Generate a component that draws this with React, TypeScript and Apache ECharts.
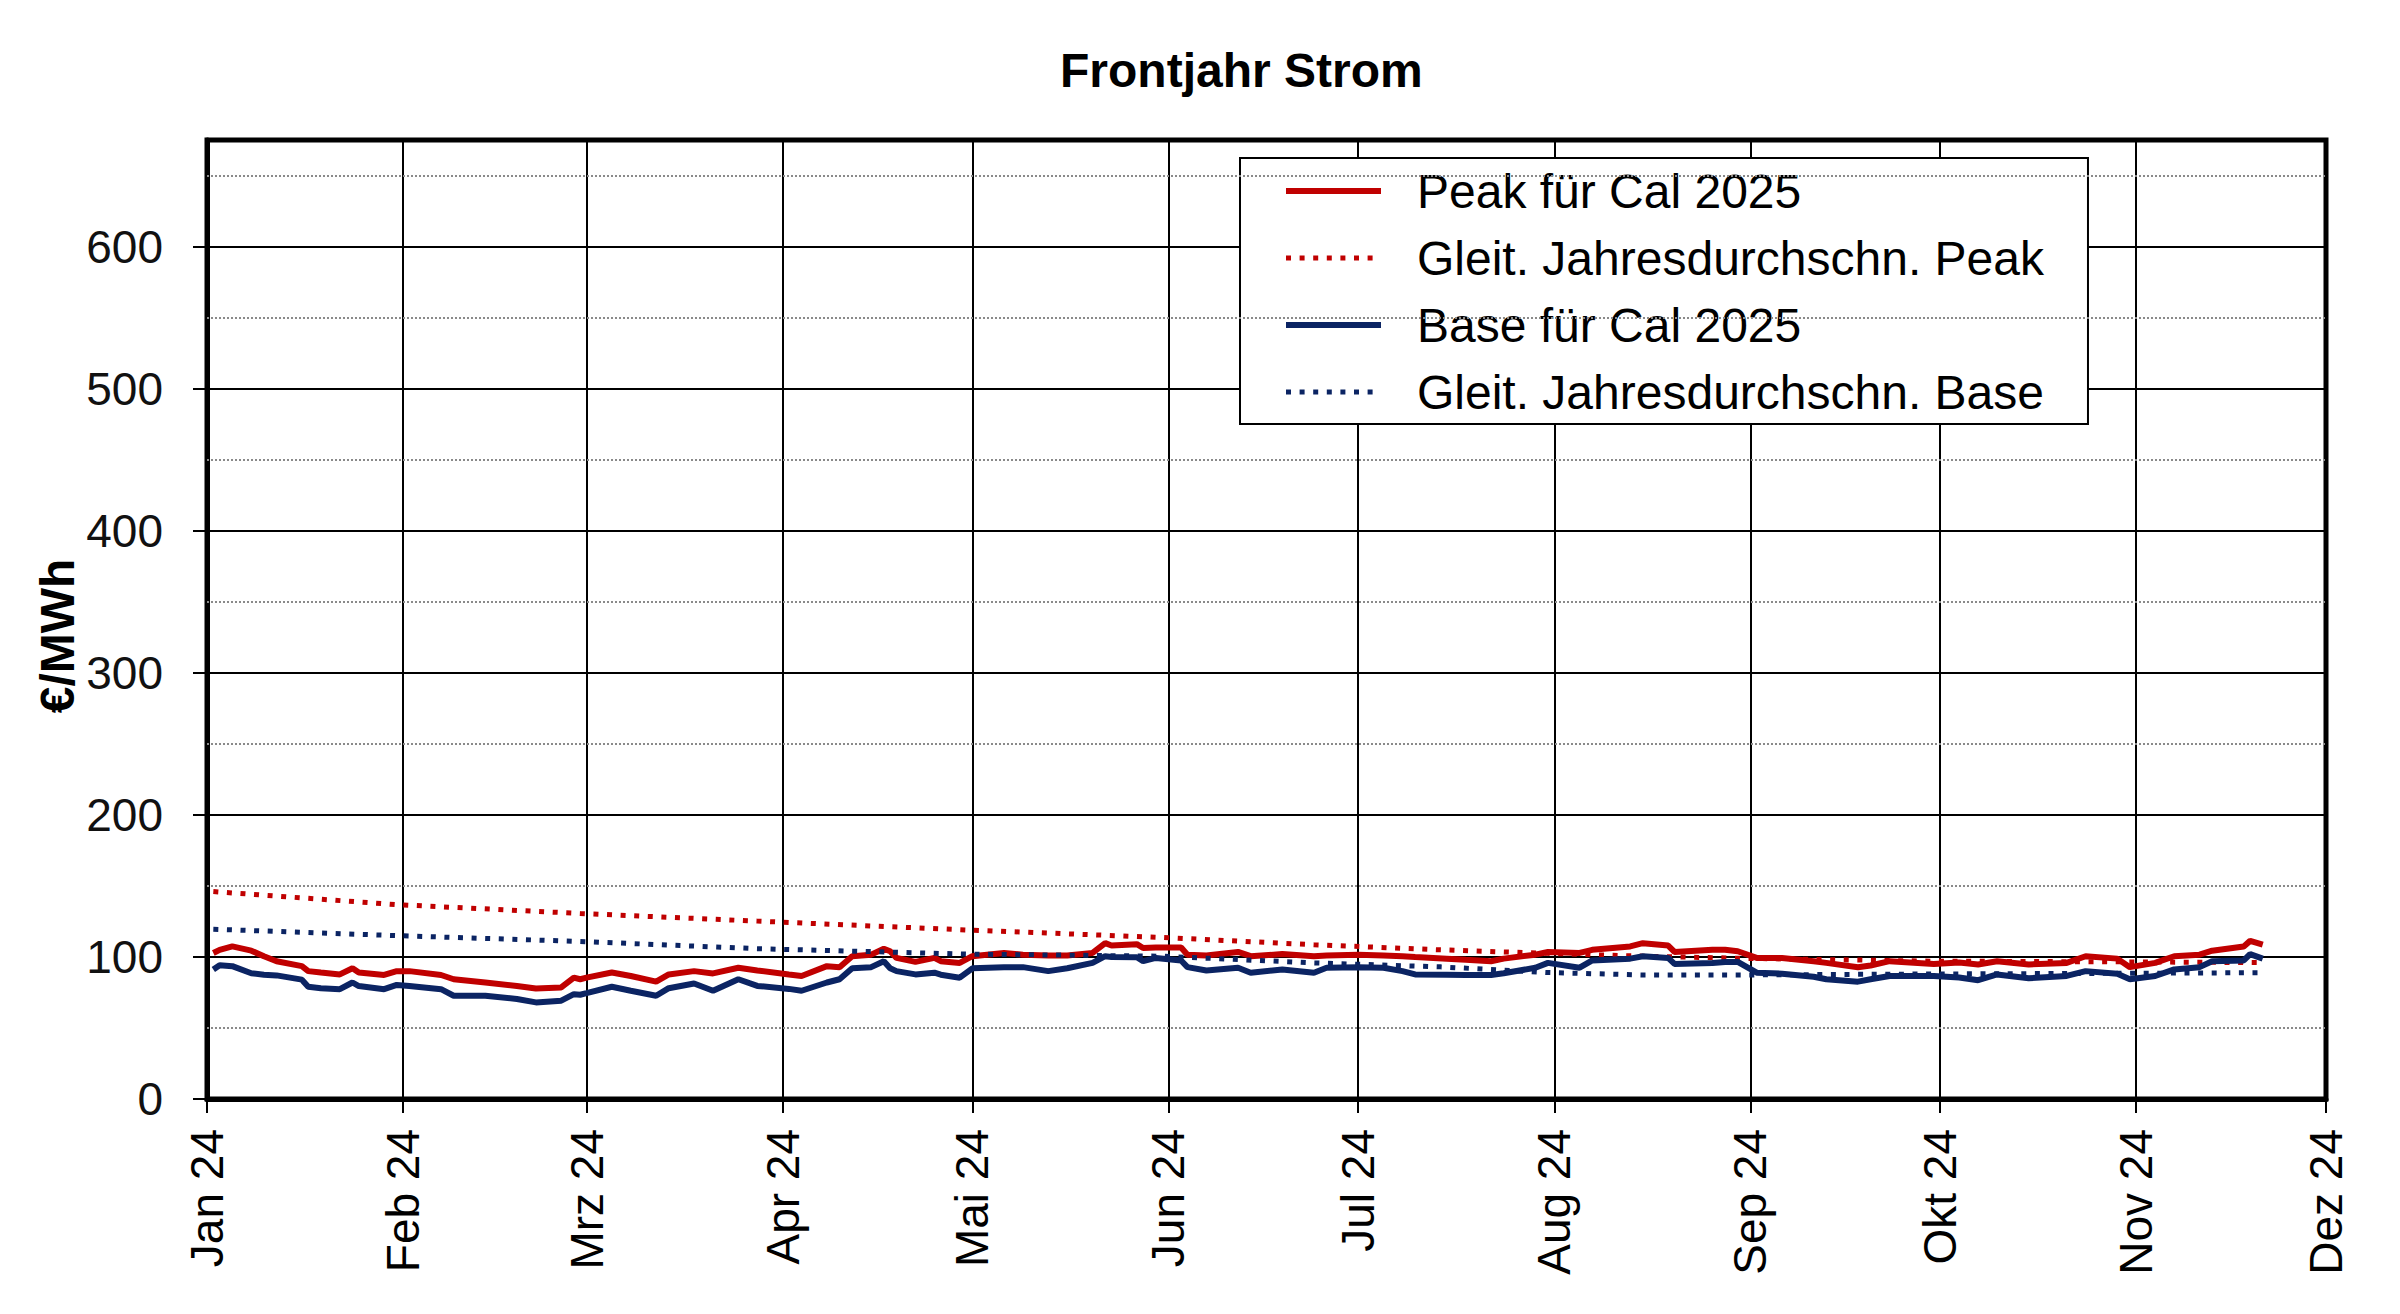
import { useEffect, useRef } from "react";
import * as echarts from "echarts";

// Tagespreise Frontjahr (Cal 2025), €/MWh
const dates = [
  "2024-01-02", "2024-01-03", "2024-01-05", "2024-01-08", "2024-01-10", "2024-01-12",
  "2024-01-16", "2024-01-17", "2024-01-19", "2024-01-22", "2024-01-24", "2024-01-25",
  "2024-01-29", "2024-01-31", "2024-02-02", "2024-02-07", "2024-02-09", "2024-02-14",
  "2024-02-19", "2024-02-22", "2024-02-26", "2024-02-28", "2024-02-29", "2024-03-01",
  "2024-03-05", "2024-03-08", "2024-03-12", "2024-03-14", "2024-03-18", "2024-03-21",
  "2024-03-25", "2024-03-28", "2024-04-02", "2024-04-04", "2024-04-08", "2024-04-10",
  "2024-04-12", "2024-04-15", "2024-04-17", "2024-04-18", "2024-04-19", "2024-04-22",
  "2024-04-25", "2024-04-26", "2024-04-29", "2024-05-01", "2024-05-06", "2024-05-09",
  "2024-05-13", "2024-05-16", "2024-05-20", "2024-05-22", "2024-05-23", "2024-05-27",
  "2024-05-28", "2024-05-30", "2024-06-03", "2024-06-04", "2024-06-07", "2024-06-12",
  "2024-06-14", "2024-06-19", "2024-06-24", "2024-06-26", "2024-07-01", "2024-07-05",
  "2024-07-08", "2024-07-10", "2024-07-15", "2024-07-18", "2024-07-22", "2024-07-24",
  "2024-07-29", "2024-07-31", "2024-08-05", "2024-08-07", "2024-08-13", "2024-08-15",
  "2024-08-19", "2024-08-20", "2024-08-26", "2024-08-28", "2024-08-30", "2024-09-02",
  "2024-09-06", "2024-09-11", "2024-09-13", "2024-09-18", "2024-09-20", "2024-09-23",
  "2024-09-30", "2024-10-04", "2024-10-07", "2024-10-10", "2024-10-15", "2024-10-21",
  "2024-10-24", "2024-10-29", "2024-10-31", "2024-11-04", "2024-11-07", "2024-11-11",
  "2024-11-13", "2024-11-18", "2024-11-19", "2024-11-21",
];

const peak = [
  102.8, 105, 107.4, 104.4, 100.5, 97,
  93.5, 90, 89, 87.7, 92, 89,
  87.3, 90, 90, 87.3, 84.3, 82,
  79.6, 77.8, 78.5, 85.4, 84.3, 85.4,
  89, 86.6, 82.6, 87.7, 90, 88.4,
  92.4, 90.5, 87.7, 86.6, 93.5, 92.8,
  100.5, 101.6, 105.8, 104, 99.3, 96.5,
  99.3, 97, 95.8, 100.5, 102.8, 101.6,
  101, 101, 102.8, 109.7, 108, 109,
  106.3, 106.7, 106.7, 101.6, 101, 103.5,
  100.5, 102, 100.5, 101, 101.6, 101,
  100.5, 100, 98.8, 98, 97, 98.8,
  101.6, 103.5, 102.8, 105, 107.4, 109.7,
  108, 103.5, 105, 105, 104, 99.3,
  99.3, 97, 95.8, 92.8, 94, 97,
  95.1, 96, 94.7, 97, 94.7, 95.8,
  100.5, 98.8, 92.8, 95.8, 100.5, 101.6,
  104.4, 107.4, 111.3, 108.6,
];

const base = [
  91.2, 94.2, 93.5, 88.5, 87.5, 87,
  84, 79, 78, 77.3, 82, 79.5,
  77.3, 80.3, 79.6, 77.3, 72.7, 72.7,
  70.4, 68, 69.2, 73.8, 73.4, 74.5,
  79, 76.2, 72.7, 78, 81.3, 76.2,
  84.3, 79.6, 77.5, 76.2, 82, 84.3,
  92, 92.8, 97, 92, 90, 87.7,
  88.9, 87.5, 85.4, 92, 92.8, 92.8,
  90, 92, 95.8, 100.5, 100, 99.8,
  97, 99.3, 97.5, 92.8, 90.5, 92.4,
  88.9, 91.2, 88.9, 92.4, 92.8, 92.4,
  90, 87.7, 87.5, 87.3, 87.3, 88.5,
  92.4, 95.8, 92.4, 97.5, 98.8, 100.5,
  99.3, 95.1, 95.8, 96.5, 96.5, 88.9,
  88.2, 86, 84.3, 82.6, 84.3, 86.6,
  86.6, 85.5, 83.6, 87.7, 85, 86.6,
  90, 88.2, 84.3, 86.6, 91.2, 92.8,
  97, 97.5, 102, 98.8,
];

// Gleitender Jahresdurchschnitt
const avgDates = [
  "2024-01-02", "2024-01-31", "2024-02-29", "2024-03-28", "2024-04-30", "2024-05-31",
  "2024-06-24", "2024-07-14", "2024-07-31", "2024-08-15", "2024-08-31", "2024-09-30",
  "2024-10-31", "2024-11-21",
];
const peakAvg = [146, 136.8, 130.6, 125.2, 119, 113.7, 108.6, 105, 102.5, 100.5, 99, 97, 96.5, 96];
const baseAvg = [119.5, 115, 110.9, 105.8, 102, 100.5, 95.8, 93, 89, 87.3, 87.3, 88, 88.5, 88.9];

const monthNames = ["Jan", "Feb", "Mrz", "Apr", "Mai", "Jun", "Jul", "Aug", "Sep", "Okt", "Nov", "Dez"];
const yTicks = [0, 100, 200, 300, 400, 500, 600];
const minorLevels = [50, 150, 250, 350, 450, 550, 650];

const FONT = "Liberation Sans, Arial, sans-serif";
const RED = "#c00000";
const NAVY = "#0b2463";

const pairs = (xs: string[], ys: number[]) => xs.map((x, i) => [x, ys[i]]);

const App = () => {
  const chartRef = useRef<HTMLDivElement>(null);

  useEffect(() => {
    if (!chartRef.current) return;
    const chart = echarts.init(chartRef.current, undefined, { renderer: "svg" });

    const dotted = { type: [5, 8.6], width: 5 };

    const option = {
      animation: false,
      backgroundColor: "#fff",
      textStyle: { fontFamily: FONT },
      title: {
        text: "Frontjahr Strom",
        left: 1060,
        top: 46,
        padding: 0,
        textStyle: { fontFamily: FONT, fontSize: 48, fontWeight: "bold", color: "#000" },
      },
      graphic: [
        {
          type: "text",
          x: 57,
          y: 636,
          rotation: Math.PI / 2,
          style: {
            text: "€/MWh",
            fill: "#000",
            font: `bold 48px ${FONT}`,
            textAlign: "center",
            textVerticalAlign: "middle",
          },
        },
      ],
      legend: {
        orient: "vertical",
        left: 1240,
        top: 158,
        padding: [8, 44, 7, 43],
        itemWidth: 95,
        itemHeight: 2,
        itemGap: 17,
        backgroundColor: "#fff",
        borderColor: "#000",
        borderWidth: 2,
        itemStyle: { opacity: 0 },
        lineStyle: { width: "inherit" },
        textStyle: { fontFamily: FONT, fontSize: 48, color: "#000", lineHeight: 50, padding: [0, 0, 0, 31] },
        data: [
          "Peak für Cal 2025",
          "Gleit. Jahresdurchschn. Peak",
          "Base für Cal 2025",
          "Gleit. Jahresdurchschn. Base",
        ],
      },
      grid: {
        left: 207,
        right: 74,
        top: 140,
        bottom: 215,
        show: true,
        borderColor: "#000",
        borderWidth: 5,
        containLabel: false,
        outerBoundsMode: "none",
      },
      xAxis: {
        type: "time",
        min: "2024-01-01",
        max: "2024-12-01",
        minInterval: 28 * 86400000,
        maxInterval: 31 * 86400000,
        axisLine: { show: true, lineStyle: { color: "#000", width: 5 } },
        axisTick: { show: true, length: 14, lineStyle: { color: "#000", width: 2 } },
        splitLine: { show: true, lineStyle: { color: "#000", width: 2 } },
        axisLabel: {
          rotate: 90,
          margin: 30,
          showMinLabel: true,
          showMaxLabel: true,
          fontFamily: FONT,
          fontSize: 46,
          color: "#000",
          formatter: (v: number) => {
            const d = new Date(v);
            return `${monthNames[d.getMonth()]} ${String(d.getFullYear()).slice(2)}`;
          },
        },
      },
      yAxis: {
        type: "value",
        min: 0,
        max: 675,
        interval: 100,
        axisLine: { show: true, lineStyle: { color: "#000", width: 5 } },
        axisTick: { show: true, length: 14, customValues: yTicks, lineStyle: { color: "#000", width: 2 } },
        splitLine: { show: true, lineStyle: { color: "#000", width: 2 } },
        axisLabel: {
          margin: 44,
          customValues: yTicks,
          fontFamily: FONT,
          fontSize: 46,
          color: "#111",
          formatter: (v: number) => (v % 100 === 0 ? String(v) : ""),
        },
      },
      series: [
        {
          name: "Peak für Cal 2025",
          type: "line",
          data: pairs(dates, peak),
          showSymbol: false,
          symbol: "none",
          color: RED,
          lineStyle: { color: RED, width: 6 },
          markLine: {
            silent: true,
            symbol: "none",
            label: { show: false },
            lineStyle: { color: "#8a8a8a", type: "dotted", width: 2 },
            data: minorLevels.map((v) => ({ yAxis: v })),
          },
        },
        {
          name: "Gleit. Jahresdurchschn. Peak",
          type: "line",
          data: pairs(avgDates, peakAvg),
          showSymbol: false,
          symbol: "none",
          color: RED,
          lineStyle: { color: RED, ...dotted },
        },
        {
          name: "Base für Cal 2025",
          type: "line",
          data: pairs(dates, base),
          showSymbol: false,
          symbol: "none",
          color: NAVY,
          lineStyle: { color: NAVY, width: 6 },
        },
        {
          name: "Gleit. Jahresdurchschn. Base",
          type: "line",
          data: pairs(avgDates, baseAvg),
          showSymbol: false,
          symbol: "none",
          color: NAVY,
          lineStyle: { color: NAVY, ...dotted },
        },
      ],
    };

    chart.setOption(option as any);

    return () => {
      chart.dispose();
    };
  }, []);

  return (
    <div
      ref={chartRef}
      style={{ position: "fixed", left: 0, top: 0, width: 2400, height: 1314, background: "#fff" }}
    />
  );
};

export default App;
